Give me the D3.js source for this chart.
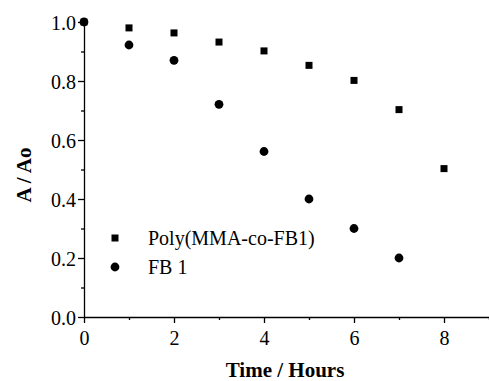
<!DOCTYPE html>
<html>
<head>
<meta charset="utf-8">
<script src="https://cdn.jsdelivr.net/npm/d3@7"></script>
<style>
  html, body { margin: 0; padding: 0; background: #fff; }
  svg { display: block; }
  svg text { font-family: "Liberation Serif", "Times New Roman", Times, "DejaVu Serif", serif !important; fill: #000; }
</style>
</head>
<body>
<div id="chart"></div>
<script>
// Data
const hoursPoly = [0, 1, 2, 3, 4, 5, 6, 7, 8];
const valuesPoly = [1.0, 0.98, 0.963, 0.932, 0.902, 0.853, 0.802, 0.703, 0.503];
const hoursFB = [0, 1, 2, 3, 4, 5, 6, 7];
const valuesFB = [1.0, 0.922, 0.87, 0.721, 0.561, 0.4, 0.3, 0.2];
const seriesNames = ["Poly(MMA-co-FB1)", "FB 1"];
const xMajorTicks = [0, 2, 4, 6, 8];
const xMinorTicks = [1, 3, 5, 7, 9];
const yMajorTicks = [0.0, 0.2, 0.4, 0.6, 0.8, 1.0];
const yMinorTicks = [0.1, 0.3, 0.5, 0.7, 0.9];
const xTitle = "Time / Hours";
const yTitle = "A / Ao";

const SERIF = '"Liberation Serif", "Times New Roman", Times, serif';
const W = 489, H = 381;
const svg = d3.select("#chart").append("svg").attr("width", W).attr("height", H)
  .style("font-family", SERIF);

const x = d3.scaleLinear().domain([0, 9]).range([84, 489]);
const y = d3.scaleLinear().domain([0, 1]).range([317, 22]);

// Axes
const xAxis = svg.append("g").attr("transform", `translate(0,${y(0)})`);
xAxis.call(d3.axisBottom(x).tickValues(xMajorTicks).tickFormat(d3.format("d")).tickSize(6).tickSizeOuter(0));
const xMinor = svg.append("g").attr("transform", `translate(0,${y(0)})`);
xMinor.call(d3.axisBottom(x).tickValues(xMinorTicks).tickFormat("").tickSize(3).tickSizeOuter(0));
xMinor.select(".domain").remove();

const yAxis = svg.append("g").attr("transform", `translate(${x(0)},0)`);
yAxis.call(d3.axisLeft(y).tickValues(yMajorTicks).tickFormat(d3.format(".1f")).tickSize(6).tickSizeOuter(0));
const yMinor = svg.append("g").attr("transform", `translate(${x(0)},0)`);
yMinor.call(d3.axisLeft(y).tickValues(yMinorTicks).tickFormat("").tickSize(3).tickSizeOuter(0));
yMinor.select(".domain").remove();

svg.selectAll("g").attr("font-family", null).style("font-family", SERIF);
svg.selectAll(".domain, .tick line").attr("stroke", "#000").attr("stroke-width", 1.3);
xAxis.selectAll(".tick text").style("font-family", SERIF).attr("font-size", 20).attr("dy", "0.95em");
yAxis.selectAll(".tick text").style("font-family", SERIF).attr("font-size", 20).attr("x", -8).attr("dy", "0.35em");

// Titles
svg.append("text").attr("x", 285).attr("y", 377).attr("text-anchor", "middle").style("font-family", SERIF)
  .attr("font-size", 21).attr("font-weight", "bold").text(xTitle);
svg.append("text").attr("transform", `translate(31,175) rotate(-90)`).attr("text-anchor", "middle").style("font-family", SERIF)
  .attr("font-size", 21).attr("font-weight", "bold").text(yTitle);

// Markers
const sq = 7;
svg.append("g").selectAll("rect").data(hoursPoly.map((h, i) => [h, valuesPoly[i]])).join("rect")
  .attr("x", d => x(d[0]) - sq / 2).attr("y", d => y(d[1]) - sq / 2)
  .attr("width", sq).attr("height", sq).attr("fill", "#000");
svg.append("g").selectAll("circle").data(hoursFB.map((h, i) => [h, valuesFB[i]])).join("circle")
  .attr("cx", d => x(d[0])).attr("cy", d => y(d[1])).attr("r", 4.4).attr("fill", "#000");

// Legend
const lg = svg.append("g");
lg.append("rect").attr("x", 115 - 3.5).attr("y", 238 - 3.5).attr("width", 7).attr("height", 7).attr("fill", "#000");
lg.append("text").attr("x", 148).attr("y", 245).attr("font-size", 20).style("font-family", SERIF).text(seriesNames[0]);
lg.append("circle").attr("cx", 115).attr("cy", 267).attr("r", 4.4).attr("fill", "#000");
lg.append("text").attr("x", 148).attr("y", 274).attr("font-size", 20).style("font-family", SERIF).text(seriesNames[1]);
</script>
</body>
</html>
